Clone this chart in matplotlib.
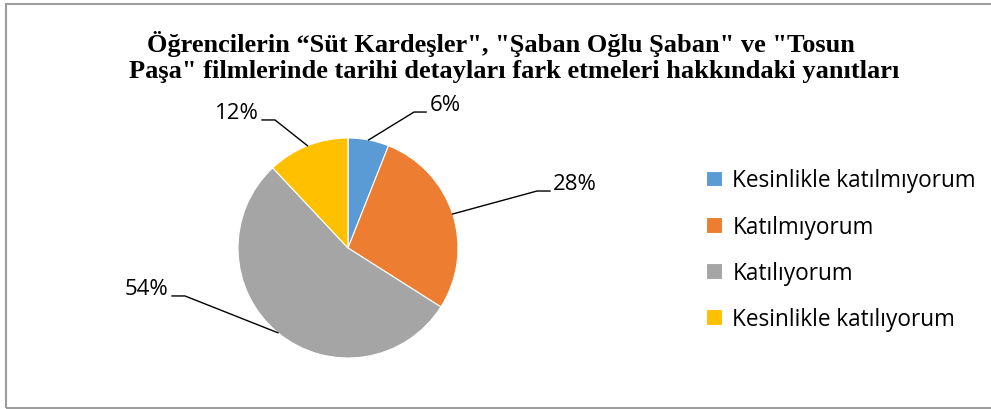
import numpy as np
import matplotlib.pyplot as plt
from matplotlib.patches import Rectangle

categories = ["Kesinlikle katılmıyorum", "Katılmıyorum", "Katılıyorum", "Kesinlikle katılıyorum"]
values = [6, 28, 54, 12]
pct_labels = ["6%", "28%", "54%", "12%"]
colors = ["#5B9BD5", "#ED7D31", "#A5A5A5", "#FFC000"]

title_lines = ["Öğrencilerin “Süt Kardeşler\", \"Şaban Oğlu Şaban\" ve \"Tosun",
               "Paşa\" filmlerinde tarihi detayları fark etmeleri hakkındaki yanıtları"]

# label layout (in pie-radius units): elbow point, end of horizontal segment
elbows = [(0.60, 1.236), (1.718, 0.518), (-1.482, -0.436), (-0.664, 1.164)]
ends = [0.71, 1.836, -1.60, -0.782]

W, H = 991, 410
fig = plt.figure(figsize=(W / 100, H / 100), dpi=100)

# outer border (right edge falls outside the picture)
fig.add_artist(Rectangle((5.5 / W, 1.5 / H), (W + 10) / W, (H - 6) / H, transform=fig.transFigure,
                         fill=False, edgecolor="#9C9C9C", lw=1.5))

cx, cy, r = 348, 249, 110
ax = fig.add_axes([(cx - r) / W, (H - cy - r) / H, 2 * r / W, 2 * r / H])
wedges, _ = ax.pie(values, colors=colors, startangle=90, counterclock=False,
                   wedgeprops=dict(edgecolor="white", linewidth=0.8))
ax.set_xlim(-1, 1)
ax.set_ylim(-1, 1)
ax.set_aspect("equal")
ax.axis("off")

lab_font = dict(family=["Open Sans", "DejaVu Sans"], fontsize=16, color="#000000")
for w, lab, (ex, ey), xe in zip(wedges, pct_labels, elbows, ends):
    mid = np.deg2rad((w.theta1 + w.theta2) / 2)
    px, py = np.cos(mid), np.sin(mid)
    ax.plot([px, ex, xe], [py, ey, ey], color="black", lw=1.0, clip_on=False)
    if xe > ex:
        ax.text(xe + 0.03, ey + 0.07, lab, ha="left", va="center", **lab_font)
    else:
        ax.text(xe - 0.03, ey + 0.07, lab, ha="right", va="center", **lab_font)

# title, one text per line (Excel centres each line slightly differently)
for line, (tx, ty) in zip(title_lines, [(501, 44), (514, 72)]):
    fig.text(tx / W, 1 - ty / H, line, ha="center", va="center", fontsize=19,
             fontweight="bold", family="Liberation Serif")

fig.legend(wedges, categories, loc="upper left", bbox_to_anchor=(686 / W, 1 - 149 / H),
           frameon=False, handlelength=0.7, handleheight=0.7, handletextpad=0.45,
           labelspacing=0.98, prop=dict(family="Open Sans", size=16.3))

fig.savefig("out.png", dpi=100)
